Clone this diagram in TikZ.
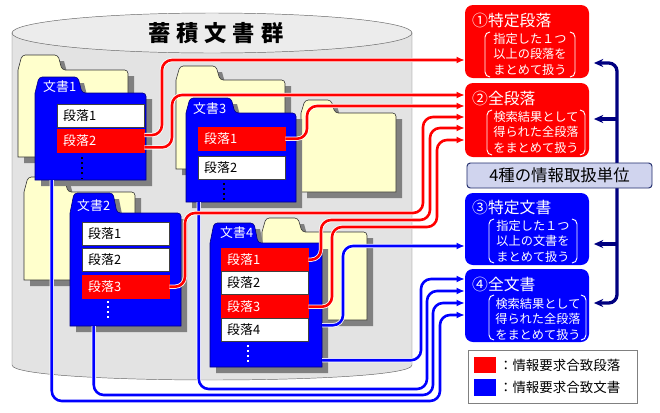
\documentclass[tikz,border=0pt]{standalone}
\usepackage{fontspec}
\setmainfont{Noto Sans CJK JP}
\usetikzlibrary{arrows.meta,fit,positioning}

\definecolor{cylgray}{HTML}{E3E3E3}
\definecolor{cyltop}{HTML}{ECECEC}
\definecolor{paleyel}{HTML}{FFFFCC}
\definecolor{shadowgray}{HTML}{808080}
\definecolor{navy}{HTML}{000080}
\definecolor{labfill}{HTML}{D0D4EE}
\definecolor{labline}{HTML}{1F2B6B}

\tikzset{
  yfold/.style={draw=black!80, fill=paleyel, line width=.5pt},
  bfold/.style={draw=navy, fill=blue, line width=.5pt},
  para/.style={draw=black!75, fill=white, line width=.4pt, anchor=north west,
    minimum width=2.61cm, minimum height=.69cm, text width=2.25cm,
    inner xsep=.18cm, inner ysep=0pt, font=\fontsize{11}{12}\selectfont},
  hitpara/.style={para, draw=red, fill=red, text=white},
  doclab/.style={anchor=west, inner sep=0pt, text=white, font=\fontsize{11}{12}\selectfont},
  dotsk/.style={line width=1.6pt, dash pattern=on 1.6pt off 2.8pt},
  rbox/.style={inner sep=0pt, rounded corners=.24cm},
  btitle/.style={anchor=west, inner sep=0pt, text=white, font=\fontsize{13.5}{15}\selectfont},
  bbody/.style={align=center, inner sep=0pt, text=white, font=\fontsize{10.4}{13.2}\selectfont},
  paren/.style={draw=white, line width=.8pt, rounded corners=.15cm},
  redline/.style={draw=red, line width=2.2pt, rounded corners=.3cm,
    preaction={draw=white, line width=3.6pt}, -{Latex[length=7pt,width=6pt]}},
  blueline/.style={redline, draw=blue},
  brace/.style={draw=navy, line width=2.8pt, rounded corners=.25cm, shorten >=4pt,
    -{Stealth[length=8pt,width=7pt]}},
  unitlab/.style={draw=labline, fill=labfill, line width=.8pt, rounded corners=.1cm,
    minimum width=5.55cm, minimum height=.75cm, font=\fontsize{14}{16}\selectfont},
  keytext/.style={inner sep=0pt, font=\fontsize{11.5}{13}\selectfont}
}

% folder with tab: name, left, tab top, tab right, body top, right, bottom, style
\newcommand{\docfolder}[8]{%
  \fill[shadowgray, shift={(6,6)}] (#2,#7) -- (#2,#5) -- (#2+4,#3) -- (#4-4,#3)
    -- (#4,#5) -- (#6,#5) -- (#6,#7) -- cycle;
  \draw[#8] (#2,#7) -- (#2,#5) [rounded corners=.1cm] -- (#2+4,#3) -- (#4-4,#3)
    -- (#4,#5) -- (#6,#5) [sharp corners] -- (#6,#7) -- cycle;
  \node[fit={(#2,#5) (#6,#7)}, inner sep=0pt] (#1) {};
}
% round brackets inside a box: left x, right x, top, bottom
\newcommand{\parens}[4]{%
  \draw[paren] (#1+5,#3) -- (#1,#3) -- (#1,#4) -- (#1+5,#4);
  \draw[paren] (#2-5,#3) -- (#2,#3) -- (#2,#4) -- (#2-5,#4);
}

\begin{document}
\begin{tikzpicture}[x=.03cm, y=-.03cm]
  \useasboundingbox (0,0) rectangle (660,412);

  % store of documents
  \draw[draw=black!60, fill=cylgray] (12,33) -- (12,365)
    .. controls (12,385) and (412,385) .. (412,365) -- (412,33) -- cycle;
  \draw[draw=black!60, fill=cyltop] (212,33) ellipse [x radius=200, y radius=20];
  \node[font=\fontsize{19}{22}\selectfont\bfseries] (store) at (216,33)
    {蓄\hspace{5pt}積\hspace{5pt}文\hspace{5pt}書\hspace{5pt}群};

  % other documents
  \docfolder{y1}{18}{55}{62}{70}{128}{157}{yfold}
  \docfolder{y2}{176}{66}{220}{80}{285}{169}{yfold}
  \docfolder{y3}{301}{100}{335}{113}{396}{192}{yfold}
  \docfolder{y4}{24}{177}{68}{192}{135}{280}{yfold}
  \docfolder{y5}{262}{218}{302}{232}{367}{320}{yfold}

  % document 1
  \docfolder{d1}{35}{77}{82}{93}{146}{180}{bfold}
  \node[doclab] (n1) at (43,87) {文書1};
  \node[para] (p11) at (57,104) {段落1};
  \node[hitpara] (p12) at (57,129) {段落2};
  \draw[dotsk, black] (82,157) -- (82,178);

  % document 3
  \docfolder{d3}{186}{98}{235}{113}{296}{202}{bfold}
  \node[doclab] (n3) at (193,109) {文書3};
  \node[hitpara] (p31) at (198,127) {段落1};
  \node[para] (p32) at (198,156) {段落2};
  \draw[dotsk, black] (224,183) -- (224,201);

  % document 2
  \docfolder{d2}{70}{193}{117}{213}{181}{326}{bfold}
  \node[doclab] (n2) at (77,206) {文書2};
  \node[para] (p21) at (82,222) {段落1};
  \node[para] (p22) at (82,248) {段落2};
  \node[hitpara] (p23) at (82,275) {段落3};
  \draw[dotsk, white] (108,301) -- (108,321);

  % document 4
  \docfolder{d4}{210}{223}{258}{243}{322}{367}{bfold}
  \node[doclab] (n4) at (220,233) {文書4};
  \node[hitpara] (p41) at (221,248) {段落1};
  \node[para] (p42) at (221,271) {段落2};
  \node[hitpara] (p43) at (221,295) {段落3};
  \node[para] (p44) at (221,318) {段落4};
  \draw[dotsk, white] (248,345) -- (248,362);

  % the four units
  \node[rbox, fill=red, fit={(465,5) (589,78)}] (b1) {};
  \node[rbox, fill=red, fit={(465,83) (589,157)}] (b2) {};
  \node[rbox, fill=blue, fit={(465,193) (589,265)}] (b3) {};
  \node[rbox, fill=blue, fit={(465,269) (589,342)}] (b4) {};
  \node[btitle] (t1) at (472,20) {①特定段落};
  \node[bbody] (x1) at (530,54) {指定した１つ\\以上の段落を\\まとめて扱う};
  \parens{485}{575}{32}{77}
  \node[btitle] (t2) at (472,98) {②全段落};
  \node[bbody] (x2) at (536,132) {検索結果として\\得られた全段落\\をまとめて扱う};
  \parens{487}{585}{110}{155}
  \node[btitle] (t3) at (472,207) {③特定文書};
  \node[bbody] (x3) at (533,241) {指定した１つ\\以上の文書を\\まとめて扱う};
  \parens{489}{577}{219}{263}
  \node[btitle] (t4) at (472,284) {④全文書};
  \node[bbody] (x4) at (538,319) {検索結果として\\得られた全段落\\をまとめて扱う};
  \parens{489}{586}{295}{340}

  % whole documents
  \draw[blueline] ([xshift=.51cm]d1.south west) |- (440,401) |- (b4.west |- 0,315);
  \draw[blueline] ([xshift=.72cm]d2.south west) |- (433,395) |- (b4.west |- 0,303);
  \draw[blueline] ([xshift=.39cm]d3.south west) |- (427,389) |- (b4.west |- 0,291);
  \draw[blueline] ([yshift=.21cm]d4.south east) -| (421,279) -- (b4.west |- 0,279);
  \draw[blueline] ([yshift=1.26cm]d4.south east) -| (343,246) -- (b3.west |- 0,246);

  % matching paragraphs
  \draw[redline] ([yshift=.17cm]p12.east) -| (162,60) -- (b1.west |- 0,60);
  \draw[redline] ([yshift=-.2cm]p12.east) -| (172,95) -- (b2.west |- 0,95);
  \draw[redline] (p31.east) -| (307,106) -- (b2.west |- 0,106);
  \draw[redline] (p23.east) -| (185,213) -| (423,117) -- (b2.west |- 0,117);
  \draw[redline] (p41.east) -| (321,220) -| (430,128) -- (b2.west |- 0,128);
  \draw[redline] (p43.east) -| (332,227) -| (437,140) -- (b2.west |- 0,140);

  % brace
  \draw[brace] (617,176) |- (b1.east |- 0,63);
  \draw[brace] (617,176) |- (b4.east |- 0,303);
  \draw[brace] (617,119) -- (b2.east |- 0,119);
  \draw[brace] (617,244) -- (b3.east |- 0,244);
  \node[unitlab] (units) at (559.5,175.5) {4種の情報取扱単位};

  % legend
  \node[draw=gray, fill=white, fit={(468,350) (637,403)}, inner sep=0pt] (legend) {};
  \node[fill=red, minimum width=.66cm, minimum height=.48cm, inner sep=0pt,
    anchor=north west] (keyr) at (474,357) {};
  \node[keytext, right=2pt of keyr] (keyrt) {：情報要求合致段落};
  \node[fill=blue, minimum width=.66cm, minimum height=.5cm, inner sep=0pt,
    anchor=north west] (keyb) at (474,379) {};
  \node[keytext, right=2pt of keyb] (keybt) {：情報要求合致文書};
\end{tikzpicture}
\end{document}
